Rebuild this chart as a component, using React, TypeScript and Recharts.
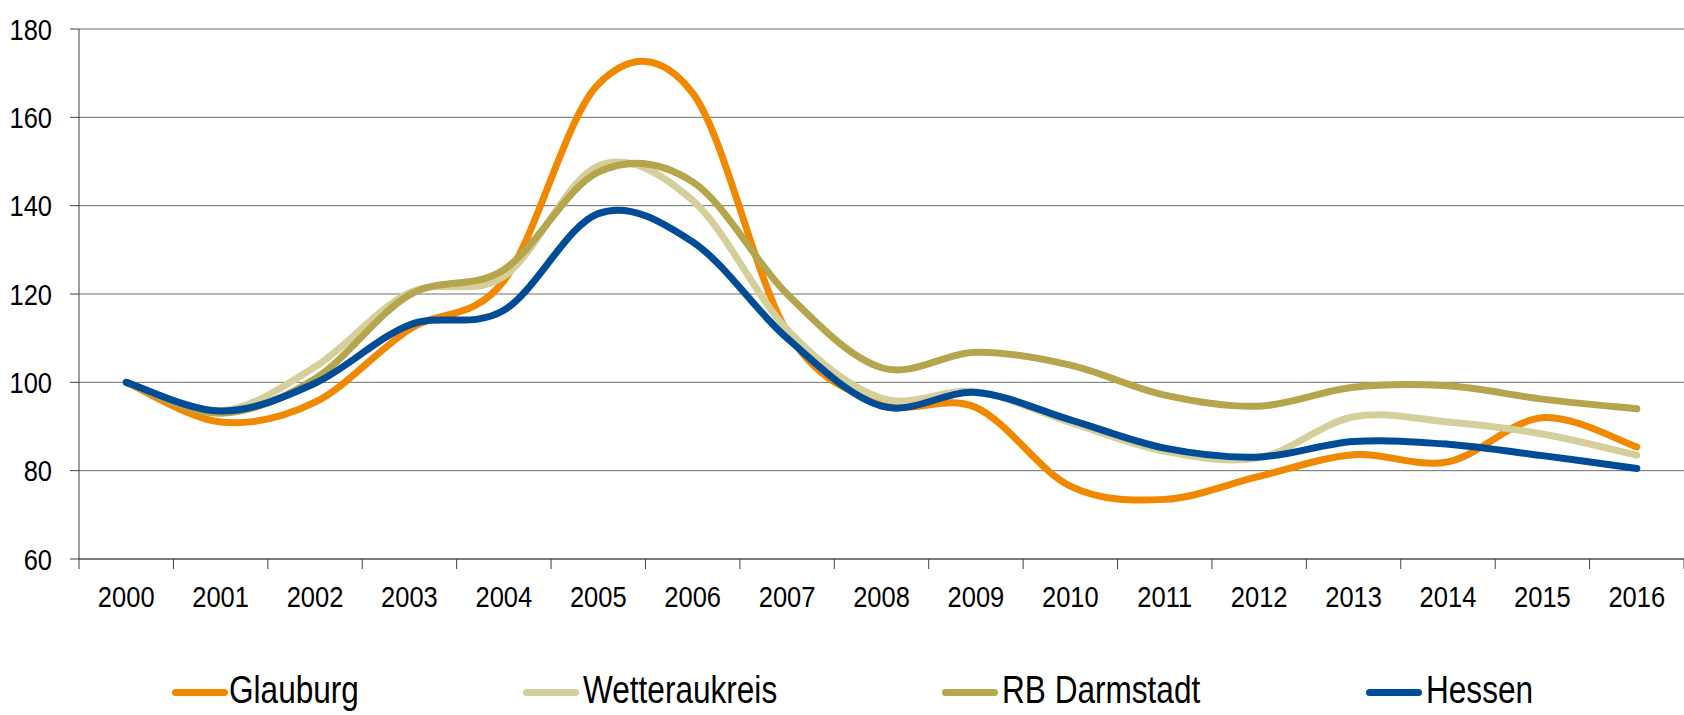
import { LineChart, Line, XAxis, YAxis, CartesianGrid } from 'recharts'

const years = ['2000', '2001', '2002', '2003', '2004', '2005', '2006', '2007', '2008', '2009', '2010', '2011', '2012', '2013', '2014', '2015', '2016']
const glauburg = [100, 91, 95.5, 112, 123, 167.5, 165.5, 111.5, 95.3, 94.3, 76.5, 73.5, 78.7, 83.6, 82, 92, 85.4]
const wetteraukreis = [100, 93.5, 103.5, 120.3, 124, 149, 141.2, 112, 96.4, 97.9, 90.9, 84.4, 82.9, 92.2, 91, 88.3, 83.5]
const rbDarmstadt = [100, 93, 100.8, 119.8, 125.5, 147.6, 145.4, 120, 103.3, 106.8, 103.9, 97.1, 94.6, 98.9, 99.2, 96.2, 94]
const hessen = [100, 93.5, 99.8, 113, 116.3, 138.2, 131.8, 110, 94.6, 97.7, 91.5, 85.1, 83.1, 86.6, 86, 83.4, 80.5]
const yTicks = [60, 80, 100, 120, 140, 160, 180]

const series = [
  { key: 'glauburg', name: 'Glauburg', color: '#f08900' },
  { key: 'wetteraukreis', name: 'Wetteraukreis', color: '#d5cf9c' },
  { key: 'rbDarmstadt', name: 'RB Darmstadt', color: '#b5a54c' },
  { key: 'hessen', name: 'Hessen', color: '#004c97' },
]

const data = years.map((year, i) => ({
  year,
  glauburg: glauburg[i],
  wetteraukreis: wetteraukreis[i],
  rbDarmstadt: rbDarmstadt[i],
  hessen: hessen[i],
}))

const W = 1684
const H = 715
const Y_AXIS_W = 79
const BAND = (W - Y_AXIS_W) / years.length
const X_AXIS_H = 60
const TICK_GAP = 27
// no narrow font installed, so regular sans squeezed horizontally
const FONT = "'Liberation Sans', Arial, sans-serif"
const NARROW = 0.82
const NARROW_TICK = 0.85
const AXIS = '#404040'

// excel-like smoothed line (catmull-rom bezier through every point)
function excelSmooth(context: any) {
  let pts: number[][] = []
  return {
    areaStart() {},
    areaEnd() {},
    lineStart() { pts = [] },
    point(x: number, y: number) { pts.push([+x, +y]) },
    lineEnd() {
      const n = pts.length
      if (!n) return
      context.moveTo(pts[0][0], pts[0][1])
      for (let i = 0; i < n - 1; i++) {
        const p0 = pts[Math.max(i - 1, 0)]
        const p1 = pts[i]
        const p2 = pts[i + 1]
        const p3 = pts[Math.min(i + 2, n - 1)]
        context.bezierCurveTo(
          p1[0] + (p2[0] - p0[0]) / 6, p1[1] + (p2[1] - p0[1]) / 6,
          p2[0] - (p3[0] - p1[0]) / 6, p2[1] - (p3[1] - p1[1]) / 6,
          p2[0], p2[1],
        )
      }
    },
  }
}

function YearTick({ x, y, payload, index }: any) {
  const axisY = y - TICK_GAP
  const last = index === years.length - 1
  return (
    <g>
      <line x1={x - BAND / 2} x2={x - BAND / 2} y1={axisY} y2={axisY + 10} stroke={AXIS} />
      {last && <line x1={x + BAND / 2} x2={x + BAND / 2} y1={axisY} y2={axisY + 10} stroke={AXIS} />}
      <text transform={`translate(${x} ${y}) scale(${NARROW_TICK} 1)`} dy="0.71em" textAnchor="middle" fontSize={30} fontFamily={FONT} fill="#000">
        {payload.value}
      </text>
    </g>
  )
}

function ValueTick({ x, y, payload }: any) {
  return (
    <text transform={`translate(${x} ${y}) scale(${NARROW_TICK} 1)`} dy="0.355em" textAnchor="end" fontSize={30} fontFamily={FONT} fill="#000">
      {payload.value}
    </text>
  )
}

const legendPos = [
  { line: 172, text: 229 },
  { line: 523, text: 583 },
  { line: 942, text: 1002 },
  { line: 1366, text: 1426 },
]

export default function App() {
  return (
    <div style={{ position: 'absolute', left: 0, top: 0, width: W, height: H, background: '#fff', overflow: 'hidden' }}>
      <LineChart width={W} height={H} data={data} margin={{ top: 29, right: 0, bottom: H - 559 - X_AXIS_H, left: 0 }}>
        <CartesianGrid vertical={false} stroke="#6e6e6e" />
        <XAxis
          dataKey="year"
          height={X_AXIS_H}
          interval={0}
          padding={{ left: BAND / 2, right: BAND / 2 }}
          axisLine={{ stroke: AXIS }}
          tickLine={false}
          tickSize={10}
          tickMargin={TICK_GAP - 10}
          tick={<YearTick />}
        />
        <YAxis
          width={Y_AXIS_W}
          domain={[60, 180]}
          ticks={yTicks}
          interval={0}
          axisLine={{ stroke: AXIS }}
          tickLine={{ stroke: AXIS }}
          tickSize={9}
          tickMargin={18}
          tick={<ValueTick />}
        />
        {series.map((s) => (
          <Line
            key={s.key}
            dataKey={s.key}
            name={s.name}
            type={excelSmooth as any}
            stroke={s.color}
            strokeWidth={7}
            strokeLinecap="round"
            strokeLinejoin="round"
            dot={false}
            activeDot={false}
            isAnimationActive={false}
          />
        ))}
      </LineChart>
      {series.map((s, i) => (
        <div key={s.key} style={{ position: 'absolute', left: 0, top: 0 }}>
          <div style={{ position: 'absolute', left: legendPos[i].line, top: 689, width: 56, height: 7, borderRadius: 4, background: s.color }} />
          <div style={{ position: 'absolute', left: legendPos[i].text, top: 668, fontFamily: FONT, fontSize: 38.5, lineHeight: '44px', color: '#000', whiteSpace: 'nowrap', transform: `scaleX(${NARROW})`, transformOrigin: 'left center' }}>
            {s.name}
          </div>
        </div>
      ))}
    </div>
  )
}
